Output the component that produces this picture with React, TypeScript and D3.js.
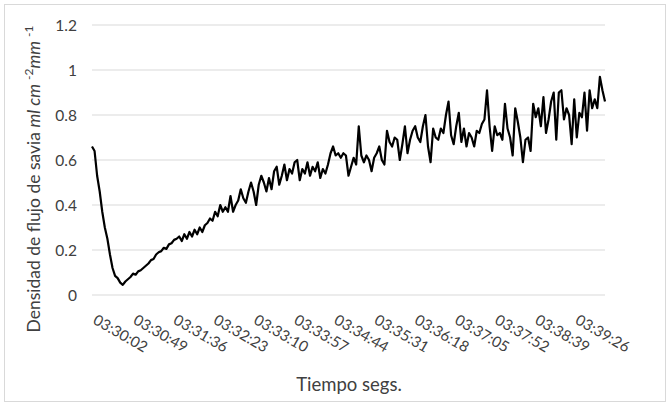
import * as d3 from 'd3';

const W = 670, H = 406;
const M = { left: 92, right: 605, top: 25, bottom: 295 };
const FONT = 'Lato, "Open Sans", sans-serif';
const TXT = '#404040';

// one reading every 3 s from 03:30:02
const STEP = 3;
const FLOW = [
  0.66, 0.64, 0.53, 0.46, 0.37, 0.30, 0.25, 0.18, 0.12, 0.085,
  0.075, 0.055, 0.045, 0.06, 0.07, 0.08, 0.095, 0.09, 0.105, 0.11,
  0.12, 0.13, 0.14, 0.155, 0.16, 0.18, 0.19, 0.195, 0.21, 0.205,
  0.225, 0.23, 0.245, 0.25, 0.26, 0.24, 0.27, 0.25, 0.28, 0.26,
  0.29, 0.27, 0.30, 0.28, 0.31, 0.32, 0.34, 0.33, 0.37, 0.35,
  0.40, 0.37, 0.39, 0.37, 0.44, 0.37, 0.40, 0.42, 0.47, 0.43,
  0.41, 0.46, 0.50, 0.46, 0.40, 0.49, 0.53, 0.50, 0.46, 0.52,
  0.47, 0.55, 0.57, 0.49, 0.53, 0.58, 0.51, 0.56, 0.54, 0.59,
  0.60, 0.51, 0.56, 0.54, 0.59, 0.53, 0.57, 0.55, 0.59, 0.52,
  0.56, 0.54, 0.58, 0.63, 0.66, 0.62, 0.63, 0.61, 0.63, 0.62,
  0.53, 0.57, 0.61, 0.58, 0.75, 0.62, 0.59, 0.62, 0.60, 0.55,
  0.61, 0.63, 0.66, 0.60, 0.58, 0.73, 0.68, 0.66, 0.70, 0.69,
  0.60, 0.67, 0.75, 0.63, 0.69, 0.73, 0.75, 0.70, 0.68, 0.75,
  0.80, 0.66, 0.59, 0.74, 0.70, 0.69, 0.74, 0.72, 0.80, 0.86,
  0.71, 0.67, 0.75, 0.81, 0.68, 0.74, 0.66, 0.72, 0.70, 0.66,
  0.73, 0.72, 0.76, 0.78, 0.91, 0.75, 0.64, 0.75, 0.71, 0.72,
  0.69, 0.85, 0.74, 0.70, 0.62, 0.83, 0.77, 0.70, 0.59, 0.69,
  0.70, 0.64, 0.85, 0.79, 0.83, 0.75, 0.88, 0.72, 0.78, 0.86,
  0.90, 0.69, 0.90, 0.91, 0.78, 0.83, 0.80, 0.67, 0.87, 0.70,
  0.81, 0.79, 0.90, 0.73, 0.91, 0.83, 0.87, 0.83, 0.97, 0.91,
  0.86,
];
const TICK_LABELS = [
  '03:30:02', '03:30:49', '03:31:36', '03:32:23', '03:33:10', '03:33:57', '03:34:44',
  '03:35:31', '03:36:18', '03:37:05', '03:37:52', '03:38:39', '03:39:26',
];
const TICK_EVERY = 47; // seconds between labels
const Y_TICKS = [0, 0.2, 0.4, 0.6, 0.8, 1, 1.2];

export default function App() {
  const x = d3.scaleLinear().domain([0, (FLOW.length - 1) * STEP]).range([M.left, M.right]);
  const y = d3.scaleLinear().domain([0, 1.2]).range([M.bottom, M.top]);
  const line = d3.line<number>().x((_, i) => x(i * STEP)).y(d => y(d));

  return (
    <div style={{ position: 'fixed', left: 0, top: 0 }}>
      <svg width={W} height={H} style={{ display: 'block', background: '#fff' }} fontFamily={FONT}>
        <rect x={4.5} y={4.5} width={W - 9} height={H - 9} fill="#fff" stroke="#d9d9d9" />
        {Y_TICKS.map(t => (
          <g key={t}>
            <line x1={M.left} x2={M.right} y1={y(t)} y2={y(t)} stroke="#d9d9d9" strokeWidth={1} />
            <text x={77} y={y(t)} dy="0.36em" textAnchor="end" fontSize={15.5} fill={TXT}>{String(t)}</text>
          </g>
        ))}
        <path d={line(FLOW) || ''} fill="none" stroke="#000" strokeWidth={2.2} strokeLinejoin="round" />
        {TICK_LABELS.map((lab, i) => (
          <text key={lab} transform={`translate(${x(i * TICK_EVERY)},${323}) rotate(30)`}
            fontSize={15} fill={TXT}>{lab}</text>
        ))}
        <text x={349} y={391} textAnchor="middle" fontSize={18.5} fill={TXT}>Tiempo segs.</text>
        <text transform={`translate(40,${179}) rotate(-90)`} textAnchor="middle" fontSize={17.5} fill={TXT}>
          Densidad de flujo de savia <tspan fontStyle="italic">ml cm </tspan>
          <tspan fontSize={12} dy={-7}>-2</tspan>
          <tspan fontStyle="italic" dy={7}>mm </tspan>
          <tspan fontSize={12} dy={-7}>-1</tspan>
        </text>
      </svg>
    </div>
  );
}
